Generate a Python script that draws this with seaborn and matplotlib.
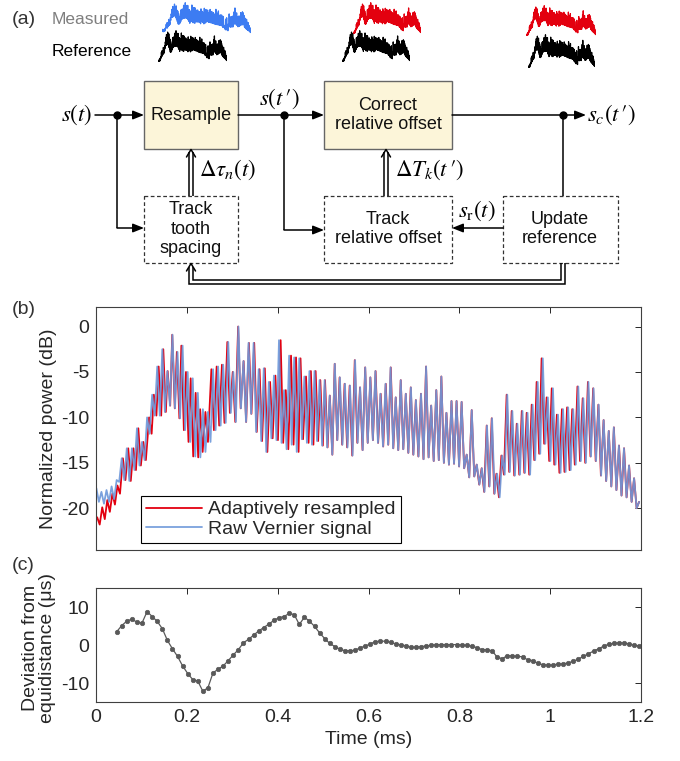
import numpy as np
import pandas as pd
import matplotlib
matplotlib.use("Agg")
import matplotlib.pyplot as plt
import seaborn as sns
from matplotlib.patches import Rectangle
from matplotlib.ticker import FormatStrFormatter

# ---- data ----
# comb teeth of the Vernier signal (panel b): first tooth time and spacing in ms
tooth_t0_ms = 0.0008
tooth_dt_ms = 0.01117

# blue (raw) tooth peak / trough levels in dB, one per tooth
peak_db = [
    -17.8, -18.2, -18.0, -17.6, -16.9, -14.5, -13.4, -13.4, -11.2, -12.7,
    -10.0, -7.5, -4.4, -2.5, -4.9, -0.9, -2.8, -2.1, -5.0, -5.7,
    -7.3, -9.1, -9.4, -4.7, -4.4, -4.2, -1.7, -5.0, 0.0, -3.8,
    -1.8, -1.8, -4.7, -4.6, -6.1, -5.4, -1.5, -7.0, -3.2, -3.4,
    -3.5, -5.5, -4.9, -4.9, -5.9, -5.9, -7.6, -4.1, -5.6, -6.3,
    -6.5, -3.7, -6.7, -4.5, -5.6, -4.9, -7.4, -6.3, -4.5, -7.8,
    -5.9, -7.4, -6.7, -8.1, -7.4, -4.4, -8.7, -7.0, -5.5, -9.5,
    -8.2, -8.2, -8.3, -14.1, -9.2, -15.2, -15.6, -10.9, -10.1, -16.2,
    -14.2, -7.5, -9.3, -10.7, -9.3, -9.5, -8.6, -6.1, -3.5, -7.8,
    -6.8, -9.7, -9.1, -8.9, -9.1, -6.6, -7.9, -6.1, -6.8, -8.6,
    -10.3, -11.5, -11.1, -13.1, -13.4, -15.3, -16.7, -19.3]
trough_db = [
    -19.3, -19.5, -19.3, -19.0, -17.1, -16.9, -17.0, -15.8, -15.3, -14.7,
    -11.8, -9.8, -9.8, -9.4, -8.7, -9.0, -10.1, -11.4, -12.7, -14.3,
    -14.4, -13.8, -12.7, -11.4, -10.9, -10.6, -9.5, -10.5, -9.0, -10.5,
    -9.6, -11.6, -12.6, -13.8, -12.3, -12.5, -12.8, -13.5, -13.0, -13.8,
    -12.4, -12.8, -13.0, -12.6, -13.1, -13.3, -14.1, -12.5, -13.0, -13.3,
    -14.2, -12.8, -13.6, -12.8, -12.5, -12.8, -13.2, -13.0, -13.4, -13.6,
    -13.5, -13.9, -14.1, -14.3, -14.6, -14.4, -14.8, -14.7, -15.0, -15.2,
    -15.1, -15.4, -15.6, -16.6, -16.5, -17.4, -18.2, -17.6, -18.4, -18.8,
    -16.3, -16.0, -16.4, -16.3, -16.1, -16.3, -14.7, -14.0, -12.9, -14.8,
    -15.2, -16.1, -16.0, -15.8, -15.2, -14.8, -15.0, -14.3, -14.8, -16.4,
    -17.0, -17.6, -18.0, -18.6, -18.8, -19.3, -20.0, -20.6]

# the resampled (red) trace differs at its first teeth
red_start_peak_db = [-21.0, -19.9, -19.1, -18.4, -17.5]
red_start_trough_db = [-21.8, -21.2, -20.4, -19.6, -18.4]

# panel c: deviation from equidistance, one point per tooth from tooth 4 on
dev_t0_ms = 0.0455
dev_us = [
    3.5, 5.1, 6.3, 6.8, 6.0, 5.8, 8.8, 7.5, 6.2, 4.3,
    1.2, -1.0, -3.0, -5.5, -7.5, -9.1, -9.5, -12.2, -11.2, -7.3,
    -6.4, -5.5, -4.1, -2.6, -1.2, 0.6, 1.5, 2.6, 3.7, 4.6,
    5.5, 6.5, 7.2, 7.5, 8.3, 8.0, 5.4, 7.3, 6.3, 4.9,
    3.2, 1.7, 0.4, -0.4, -1.1, -1.5, -1.5, -1.4, -0.7, -0.3,
    0.3, 0.9, 1.0, 1.0, 0.7, 0.3, 0.0, -0.2, -0.6, -0.6,
    -0.4, -0.3, -0.1, 0.1, 0.1, 0.1, 0.1, 0.1, 0.0, -0.1,
    -0.3, -0.7, -1.2, -1.3, -1.5, -3.2, -3.6, -2.8, -2.9, -3.0,
    -3.1, -3.9, -4.1, -4.8, -5.2, -5.3, -5.3, -5.0, -5.0, -4.7,
    -4.3, -3.7, -3.0, -2.3, -1.6, -1.0, -0.3, 0.2, 0.4, 0.6,
    0.5, 0.3, -0.1, -0.3]

x_ticks = [0, 0.2, 0.4, 0.6, 0.8, 1.0, 1.2]

RED = "#e3000f"
BLUE = "#6f99da"
GREY = "#595959"

sns.set_theme(style="white")
plt.rcParams["font.family"] = ["Liberation Sans", "DejaVu Sans"]
plt.rcParams["mathtext.fontset"] = "stix"
plt.rcParams["axes.unicode_minus"] = False

W, H = 680, 761
fig = plt.figure(figsize=(W / 100, H / 100), dpi=100)


def px_rect(x0, y0, x1, y1):
    return [x0 / W, 1 - y1 / H, (x1 - x0) / W, (y1 - y0) / H]


# ---- build traces ----
n_teeth = len(peak_db)
t_teeth = tooth_t0_ms + tooth_dt_ms * np.arange(n_teeth)
t_dev = dev_t0_ms + tooth_dt_ms * np.arange(len(dev_us))

red_peak = np.array(peak_db)
red_trough = np.array(trough_db)
red_peak[:len(red_start_peak_db)] = red_start_peak_db
red_trough[:len(red_start_trough_db)] = red_start_trough_db
# residual mismatch between raw and resampled teeth, about half the deviation
shift_ms = np.concatenate([[dev_us[0]] * (n_teeth - len(dev_us)), dev_us]) * 0.5e-3


def zigzag(t, peaks, troughs):
    tt = np.empty(2 * len(t))
    yy = np.empty(2 * len(t))
    tt[0::2] = t
    tt[1::2] = t + tooth_dt_ms / 2
    yy[0::2] = peaks
    yy[1::2] = troughs
    return pd.DataFrame({"t": tt, "db": yy})


raw = zigzag(t_teeth, peak_db, trough_db)
res = zigzag(t_teeth + shift_ms, red_peak, red_trough)
res = res[res["t"] <= 1.2]
raw = raw[raw["t"] <= 1.2]

# ---- panel (a): block diagram ----
dg = fig.add_axes([0, 0, 1, 1])
dg.set_xlim(0, W)
dg.set_ylim(H, 0)
dg.axis("off")
LW = 1.1


def seg(xs, ys):
    dg.plot(xs, ys, color="black", lw=LW, solid_capstyle="butt", solid_joinstyle="miter")


def arrow(x0, y0, x1, y1):
    dg.annotate("", xy=(x1, y1), xytext=(x0, y0),
                arrowprops=dict(arrowstyle="-|>,head_length=0.55,head_width=0.22",
                                color="black", lw=LW, shrinkA=0, shrinkB=0))


def dot(x, y):
    dg.plot([x], [y], "o", ms=5, color="black")


def dbl_up(x, y0, y1):
    for dx in (-1.7, 1.7):
        seg([x + dx, x + dx], [y0, y1 + 3])
    dg.plot([x - 4.5, x, x + 4.5], [y1 + 8, y1 + 0.5, y1 + 8], color="black", lw=LW)


def box(x0, y0, x1, y1, solid):
    if solid:
        r = Rectangle((x0, y0), x1 - x0, y1 - y0, fc="#fcf5d9", ec="#666666", lw=1.0)
    else:
        r = Rectangle((x0, y0), x1 - x0, y1 - y0, fc="white", ec="#333333", lw=0.9, ls=(0, (3, 2)))
    dg.add_patch(r)


tk = dict(fontsize=13, ha="center", va="center", color="#111111")
mk = dict(fontsize=16.5, va="center", color="black")

box(144, 81, 238, 149, True)
box(324, 81, 452, 149, True)
box(144, 196, 238, 263, False)
box(324, 196, 452, 263, False)
box(503, 196, 618, 263, False)
dg.text(191, 115, "Resample", **tk)
dg.text(388, 115, "Correct\nrelative offset", **tk)
dg.text(191, 229, "Track\ntooth\nspacing", **tk)
dg.text(388, 229, "Track\nrelative offset", **tk)
dg.text(560, 229, "Update\nreference", **tk)

arrow(95, 115, 144, 115)
dot(117, 115)
seg([117, 117], [115, 228])
arrow(117, 228, 144, 228)
arrow(238, 115, 324, 115)
dot(284, 115)
seg([284, 284], [115, 230])
arrow(284, 230, 324, 230)
arrow(452, 115, 586, 115)
dot(563, 115)
seg([563, 563], [115, 196])
arrow(503, 228, 452, 228)
dbl_up(191, 196, 149)
dbl_up(386, 196, 149)
seg([564.7, 564.7, 189.3, 189.3], [263, 283.7, 283.7, 267])
seg([561.3, 561.3, 192.7, 192.7], [263, 280.3, 280.3, 267])
dg.plot([186.5, 191, 195.5], [271, 263.5, 271], color="black", lw=LW)

dg.text(92, 115, r"$s(t)$", ha="right", **mk)
dg.text(279, 99, r"$s(t\,\prime)$", ha="center", **mk)
dg.text(587, 115, r"$s_c(t\,\prime)$", ha="left", **mk)
dg.text(199, 170, r"$\Delta\tau_n(t)$", ha="left", **mk)
dg.text(395, 170, r"$\Delta T_k(t\,\prime)$", ha="left", **mk)
dg.text(458, 211, r"$s_\mathrm{r}(t)$", ha="left", **mk)

dg.text(12, 19, "(a)", fontsize=14, va="center", color="#333333")
dg.text(52, 19, "Measured", fontsize=12.5, va="center", color="#7f7f7f")
dg.text(52, 52, "Reference", fontsize=12.5, va="center", color="black")
dg.text(12, 310, "(b)", fontsize=14, va="center", color="#333333")
dg.text(12, 565, "(c)", fontsize=14, va="center", color="#333333")

# thumbnails of the signals
thumbs = [
    ((162, 2, 251, 34), raw, "#3d7cf2"),
    ((158, 30, 227, 62), res, "black"),
    ((353, 2, 421, 34), res, RED),
    ((342, 30, 410, 62), res, "black"),
    ((526, 5, 596, 36), res, RED),
    ((528, 34, 595, 68), res, "black"),
]
for rect, d, c in thumbs:
    ta = fig.add_axes(px_rect(*rect))
    sns.lineplot(data=d, x="t", y="db", ax=ta, color=c, lw=0.9)
    ta.set_xlim(0, 1.2)
    ta.set_ylim(-21, 0.5)
    ta.axis("off")


def style_axes(ax):
    ax.set_xlim(0, 1.2)
    ax.set_xticks(x_ticks)
    ax.tick_params(direction="in", length=4, width=0.7, top=True, right=True,
                   labelsize=14, colors="#262626", pad=5)
    for s in ax.spines.values():
        s.set_color("#404040")
        s.set_linewidth(0.8)
    ax.set_facecolor("white")


# ---- panel (b) ----
axb = fig.add_axes(px_rect(96, 307.5, 641, 550))
sns.lineplot(data=res, x="t", y="db", ax=axb, color=RED, lw=1.3, sort=False,
             label="Adaptively resampled")
sns.lineplot(data=raw, x="t", y="db", ax=axb, color=BLUE, lw=1.3, alpha=0.92, sort=False,
             label="Raw Vernier signal")
style_axes(axb)
axb.set_ylim(-24.6, 2.1)
axb.set_yticks([-20, -15, -10, -5, 0])
axb.set_xticklabels([])
axb.set_xlabel("")
axb.set_ylabel("Normalized power (dB)", fontsize=14, color="#262626")
axb.yaxis.set_label_coords(-0.087, 0.5)
axb.yaxis.label.set_va("center")
leg = axb.legend(loc="lower left", bbox_to_anchor=(0.083, 0.03), fontsize=14,
                 frameon=True, fancybox=False, edgecolor="black", framealpha=1,
                 handlelength=2.9, handletextpad=0.3, labelspacing=0.1,
                 borderpad=0.25, borderaxespad=0)
leg.get_frame().set_linewidth(0.8)

# ---- panel (c) ----
axc = fig.add_axes(px_rect(96, 588, 641, 702))
sns.lineplot(x=t_dev, y=dev_us, ax=axc, color=GREY, lw=0.9, marker="o",
             markersize=3.2, markeredgecolor=GREY, markeredgewidth=0.5)
style_axes(axc)
axc.set_ylim(-15, 15)
axc.set_yticks([-10, 0, 10])
axc.xaxis.set_major_formatter(FormatStrFormatter("%g"))
axc.set_xlabel("Time (ms)", fontsize=14, color="#262626", labelpad=4)
axc.set_ylabel("Deviation from\nequidistance (\u03bcs)", fontsize=14, color="#262626",
               linespacing=1.0)
axc.yaxis.set_label_coords(-0.105, 0.47)
axc.yaxis.label.set_va("center")

fig.savefig("out.png", dpi=100)
